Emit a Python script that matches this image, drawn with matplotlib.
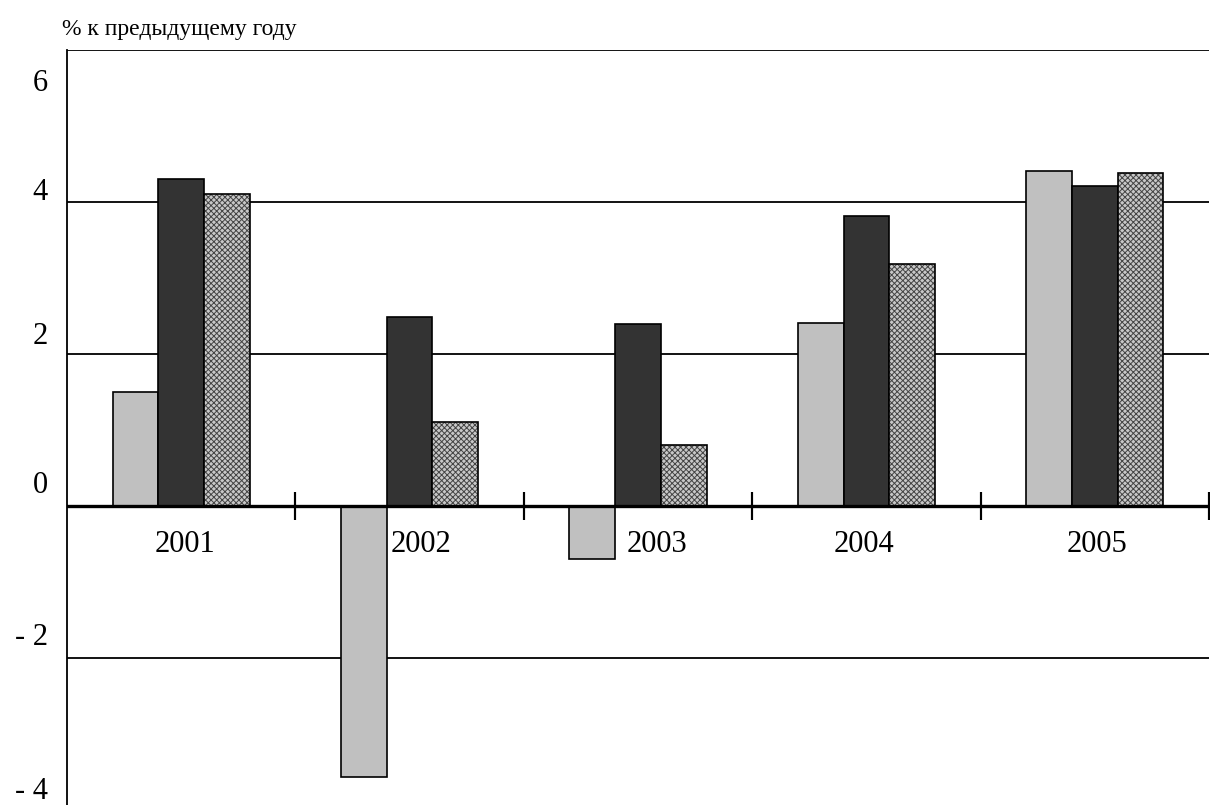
import numpy as np
import matplotlib
matplotlib.use('Agg')
import matplotlib.pyplot as plt
import matplotlib.transforms as mtransforms

plt.rcParams['font.family'] = ['Liberation Serif', 'DejaVu Serif']
plt.rcParams['hatch.linewidth'] = 0.7

# данные, % к предыдущему году
years = ['2001', '2002', '2003', '2004', '2005']
s_light = [1.5, -3.57, -0.7, 2.41, 4.41]
s_dark = [4.3, 2.49, 2.39, 3.82, 4.21]
s_hatch = [4.1, 1.1, 0.8, 3.18, 4.38]
y_ticks = [-4, -2, 0, 2, 4, 6]
y_labels = ['- 4', '- 2', '0', '2', '4', '6']

W, H = 1210, 805
fig = plt.figure(figsize=(W / 100, H / 100), dpi=100)
ax = fig.add_axes([67 / W, (H - 810) / H, (1209 - 67) / W, 760 / H])

x = np.arange(len(years))
bw = 0.2
ax.bar(x - bw, s_light, bw, color='#c0c0c0', edgecolor='black', linewidth=1.2, zorder=3)
ax.bar(x, s_dark, bw, color='#333333', edgecolor='black', linewidth=1.2, zorder=3)
ax.bar(x + bw, s_hatch, bw, color='#c8c8c8', edgecolor='#444444', hatch='xxxxxx',
       linewidth=0, zorder=3)
ax.bar(x + bw, s_hatch, bw, color='none', edgecolor='black', linewidth=1.2, zorder=4)

ax.set_xlim(-0.5, len(years) - 0.5)
ax.set_ylim(-4, 6)

# горизонтальные линии
for v in [-2, 2, 4, 6]:
    ax.axhline(v, color='black', linewidth=1.3, zorder=1)
ax.axhline(0, color='black', linewidth=2.4, zorder=5)

for side in ['top', 'right', 'bottom']:
    ax.spines[side].set_visible(False)
ax.spines['left'].set_linewidth(1.3)

# засечки на оси X
for b in np.arange(0.5, len(years), 1):
    ax.plot([b, b], [0, 0], marker='|', markersize=20, markeredgewidth=1.5,
            color='black', zorder=6, clip_on=False)

ax.set_xticks([])
ax.set_yticks(y_ticks)
ax.set_yticklabels(y_labels, fontsize=22)
ax.tick_params(axis='y', length=0, pad=14)
y_shift = [22, 24, 24, 21, 13, -30]
for lab, dy in zip(ax.get_yticklabels(), y_shift):
    lab.set_transform(lab.get_transform() +
                      mtransforms.ScaledTranslation(0, dy / 100, fig.dpi_scale_trans))

# подписи годов
x_shift = [4, 11, 19, -2, 2]
for i, (yr, dx) in enumerate(zip(years, x_shift)):
    tr = ax.transData + mtransforms.ScaledTranslation(dx / 100, -39 / 100, fig.dpi_scale_trans)
    ax.text(i, 0, yr, transform=tr, ha='center', va='center', fontsize=22, zorder=7)

fig.text(62 / W, 1 - 30 / H, '% к предыдущему году', fontsize=17, ha='left', va='center')

fig.savefig('out.png', dpi=100)
